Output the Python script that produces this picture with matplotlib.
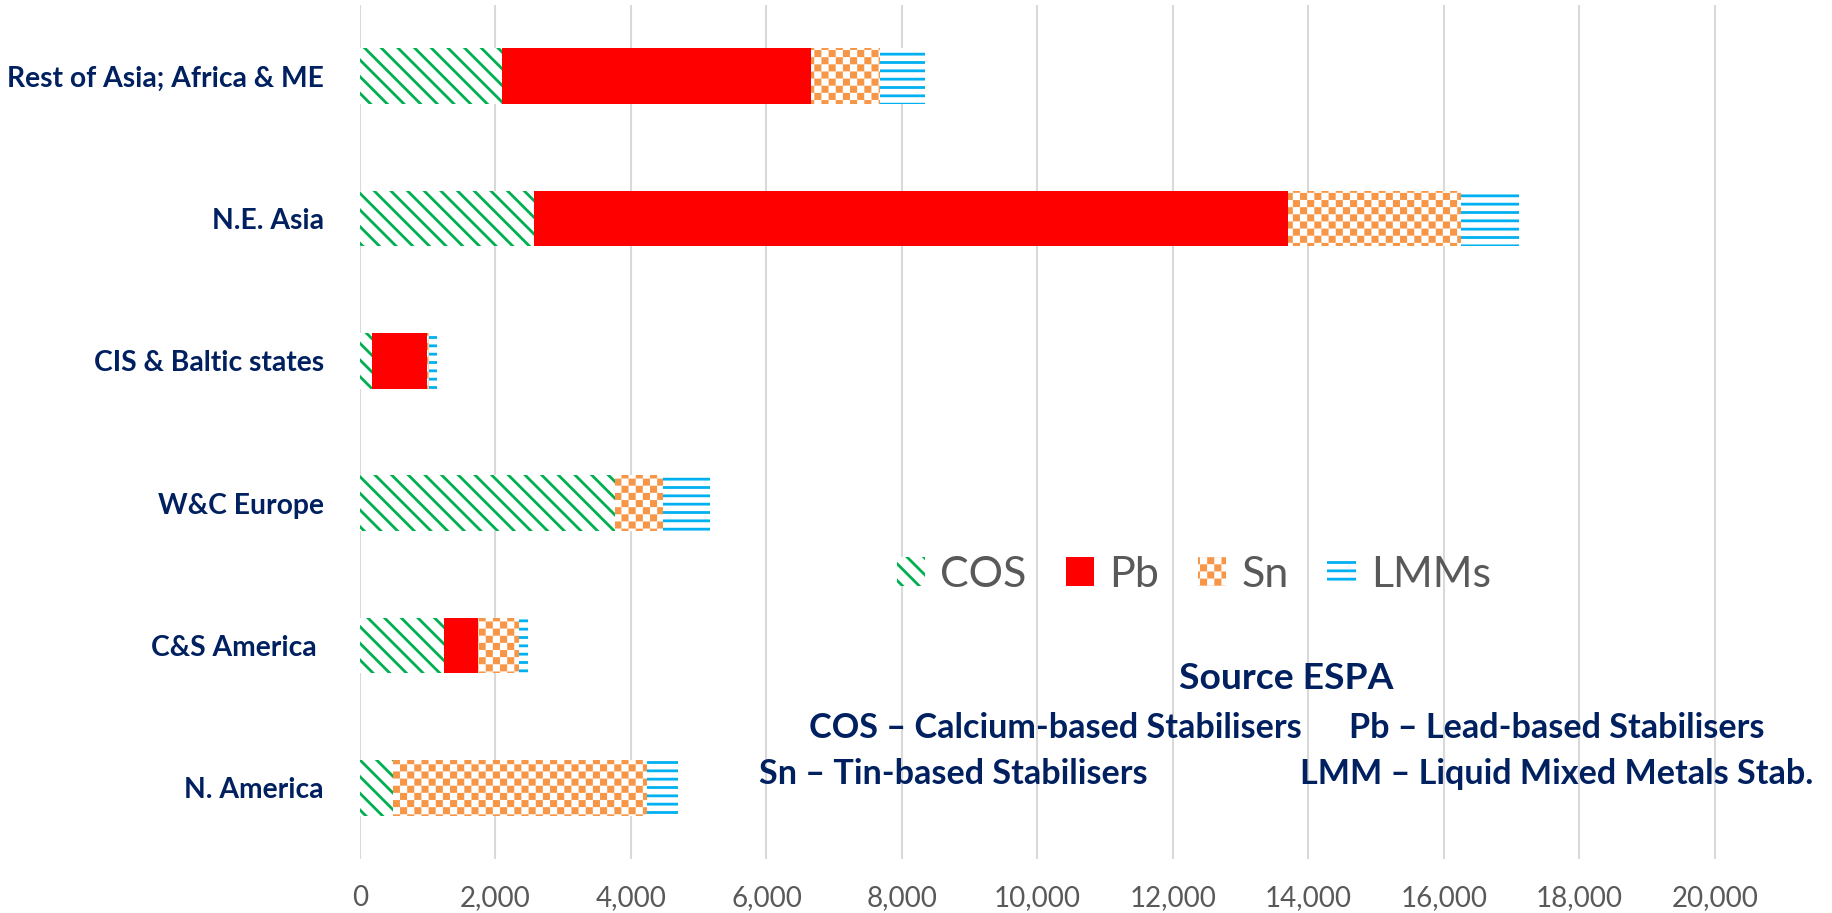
import warnings
import numpy as np
import matplotlib
matplotlib.use("Agg")
import matplotlib.pyplot as plt
import matplotlib.hatch as mhatch
from matplotlib.path import Path

warnings.filterwarnings("ignore")

# regions, bottom to top
regions = ["N. America", "C&S America ", "W&C Europe", "CIS & Baltic states",
           "N.E. Asia", "Rest of Asia; Africa & ME"]
cos = [480, 1245, 3760, 170, 2570, 2100]
pb = [0, 500, 0, 815, 11130, 4560]
sn = [3750, 605, 710, 30, 2550, 1010]
lmm = [465, 130, 690, 125, 850, 670]

xticks = list(range(0, 20001, 2000))

GREEN = "#00b050"
RED = "#ff0000"
ORANGE = "#f79646"
BLUE = "#00b0f0"
NAVY = "#002060"
GREY = "#595959"
FONT = ["Lato", "DejaVu Sans"]


# checkerboard hatch ('c') - matplotlib has none built in
class CheckerHatch(mhatch.HatchPatternBase):
    def __init__(self, hatch, density):
        self.n = 14 if "c" in hatch else 0
        self.num_vertices = (self.n * self.n // 2) * 5
        self.filled = True

    def set_vertices_and_codes(self, vertices, codes):
        n = self.n
        s = 1.0 / n
        d = 0.2 * s
        k = 0
        for i in range(n):
            for j in range(n):
                if (i + j) % 2 == 0:
                    x0, y0 = i * s + d, j * s + d
                    x1, y1 = (i + 1) * s - d, (j + 1) * s - d
                    vertices[k:k + 5] = [[x0, y0], [x1, y0], [x1, y1], [x0, y1], [x0, y0]]
                    codes[k] = Path.MOVETO
                    codes[k + 1:k + 4] = Path.LINETO
                    codes[k + 4] = Path.CLOSEPOLY
                    k += 5


mhatch._hatch_types.append(CheckerHatch)
plt.rcParams["hatch.linewidth"] = 2.0
plt.rcParams["font.family"] = FONT

fig = plt.figure(figsize=(18.33, 9.13), dpi=100)
ax = fig.add_axes([360 / 1833, 54 / 913, 1375 / 1833, 854 / 913])

y = np.arange(len(regions))
h = 0.39
left = np.zeros(len(regions))
series = [("COS", cos, dict(facecolor="white", edgecolor=GREEN, hatch="\\\\", linewidth=0)),
          ("Pb", pb, dict(facecolor=RED, edgecolor=RED, linewidth=0)),
          ("Sn", sn, dict(facecolor="white", edgecolor=ORANGE, hatch="c", linewidth=0)),
          ("LMMs", lmm, dict(facecolor="white", edgecolor=BLUE, hatch="--", linewidth=0))]
handles = []
for name, vals, style in series:
    b = ax.barh(y, vals, height=h, left=left, label=name, zorder=3, **style)
    handles.append(b)
    left = left + np.array(vals)

ax.set_xlim(0, 20000 * 1375 / 1355)
ax.set_ylim(-0.5, len(regions) - 0.5)
ax.set_xticks(xticks)
ax.set_xticklabels([f"{v:,}" for v in xticks], fontsize=20, color=GREY)
ax.set_yticks(y)
ax.set_yticklabels(regions, fontsize=20.3, fontweight="bold", color=NAVY)
ax.tick_params(axis="x", length=0, pad=19)
ax.tick_params(axis="y", length=0, pad=26)
ax.grid(axis="x", color="#d9d9d9", linewidth=1.5, zorder=0)
ax.set_axisbelow(True)
for s in ax.spines.values():
    s.set_visible(False)

ax.legend(handles=handles, loc="center left", bbox_to_anchor=(897 / 1833, 1 - 575 / 913),
          bbox_transform=fig.transFigure, ncol=4, frameon=False, fontsize=31,
          labelcolor=GREY, borderpad=0, borderaxespad=0, handlelength=0.66,
          handleheight=0.66, handletextpad=0.35, columnspacing=0.9)

tkw = dict(color=NAVY, fontweight="bold", va="center")
fig.text(1286 / 1833, 1 - 678 / 913, "Source ESPA", fontsize=26.8, ha="center", **tkw)
fig.text(809 / 1833, 1 - 728 / 913, "COS \u2013 Calcium-based Stabilisers", fontsize=24.6, **tkw)
fig.text(1349 / 1833, 1 - 728 / 913, "Pb \u2013 Lead-based Stabilisers", fontsize=24.6, **tkw)
fig.text(759 / 1833, 1 - 774 / 913, "Sn \u2013 Tin-based Stabilisers", fontsize=24.6, **tkw)
fig.text(1300 / 1833, 1 - 774 / 913, "LMM \u2013 Liquid Mixed Metals Stab.", fontsize=24.6, **tkw)

fig.savefig("out.png", dpi=100)
